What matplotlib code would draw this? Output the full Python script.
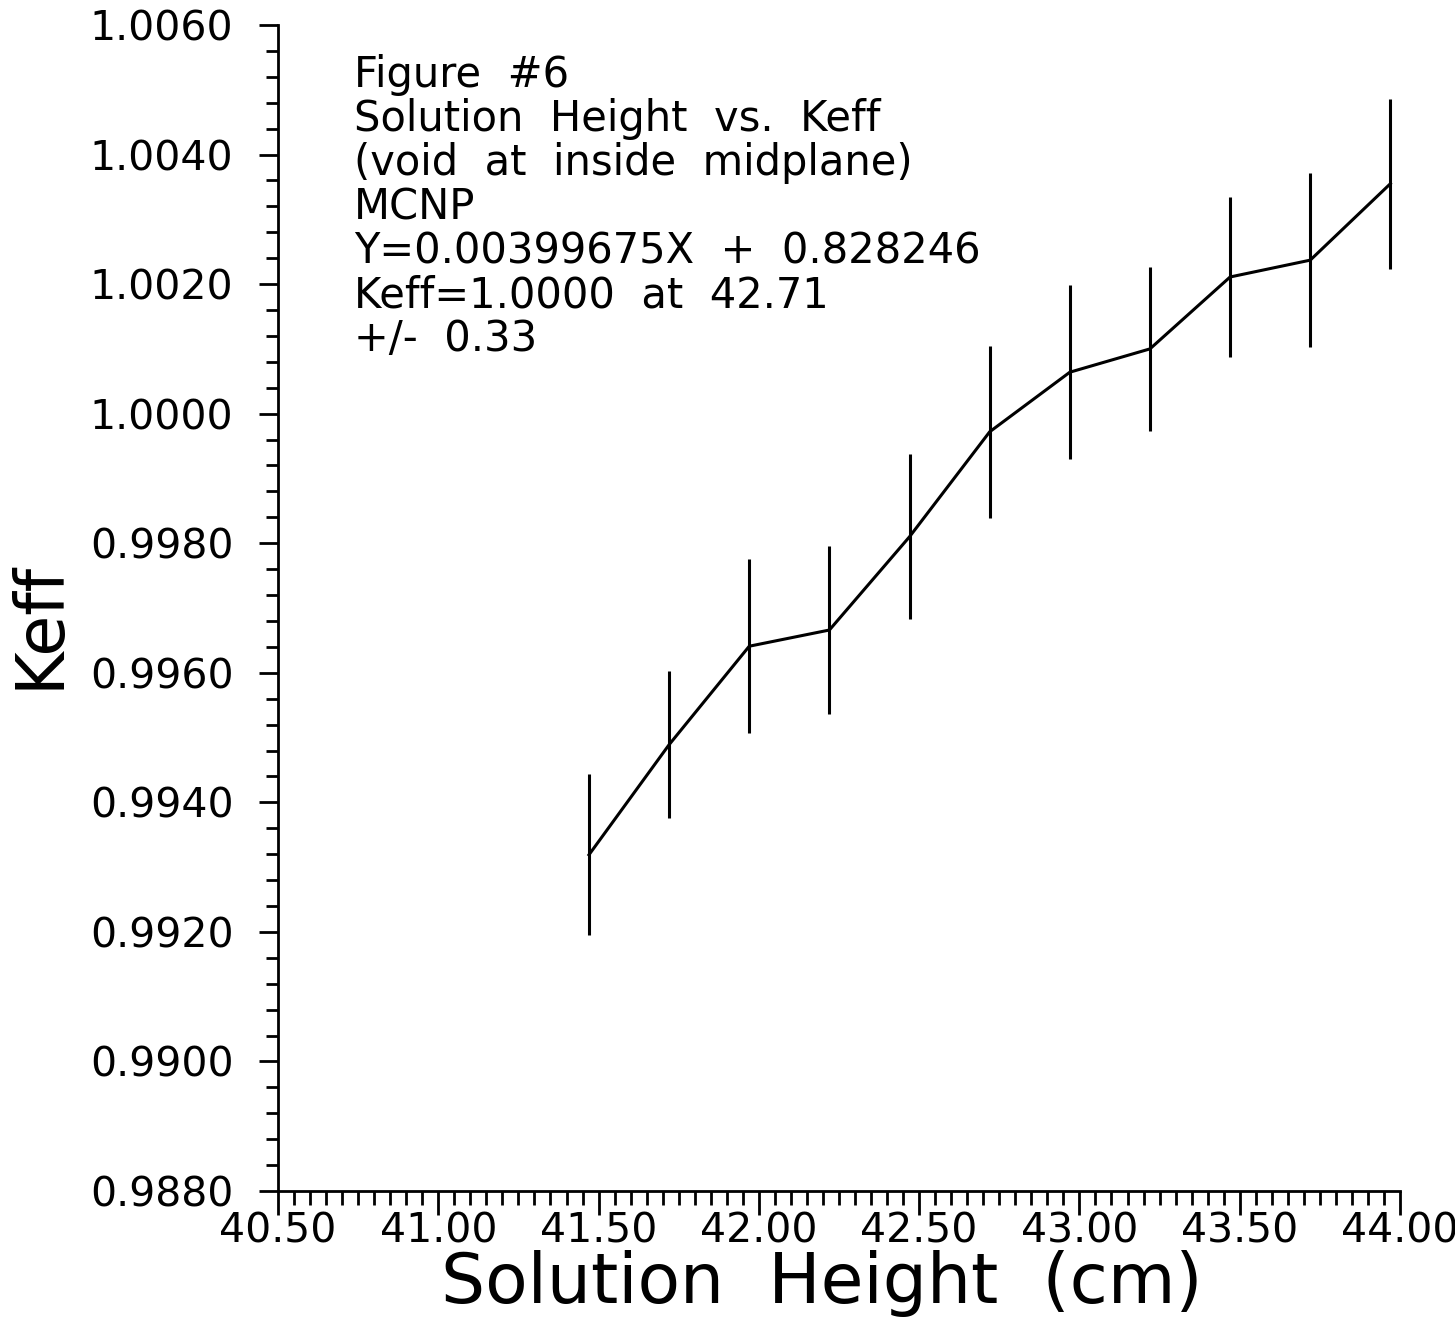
import numpy as np
import matplotlib
matplotlib.use("Agg")
import matplotlib.pyplot as plt
from matplotlib.ticker import MultipleLocator, FormatStrFormatter

#data
height = [41.47, 41.72, 41.97, 42.22, 42.47, 42.72, 42.97, 43.22, 43.47, 43.72, 43.97]
keff = [0.99319, 0.99489, 0.99641, 0.99666, 0.99810, 0.99972,
        1.00064, 1.00100, 1.00211, 1.00237, 1.00355]
sigma = [0.00124, 0.00113, 0.00134, 0.00130, 0.00127, 0.00133,
         0.00134, 0.00126, 0.00124, 0.00134, 0.00131]

note_lines = ["Figure  #6",
              "Solution  Height  vs.  Keff",
              "(void  at  inside  midplane)",
              "MCNP",
              "Y=0.00399675X  +  0.828246",
              "Keff=1.0000  at  42.71",
              "+/-  0.33"]

plt.rcParams['font.family'] = 'DejaVu Sans'

fig = plt.figure(figsize=(14.55, 13.33), dpi=100)
ax = fig.add_axes([278/1455, 1 - 1191/1333, (1400 - 278)/1455, (1191 - 25)/1333])

ax.errorbar(height, keff, yerr=sigma, color='black', lw=2.2, elinewidth=2.2, capsize=0)

ax.set_xlim(40.5, 44.0)
ax.set_ylim(0.9880, 1.0060)

#ticks
ax.xaxis.set_major_locator(MultipleLocator(0.5))
ax.xaxis.set_minor_locator(MultipleLocator(0.05))
ax.yaxis.set_major_locator(MultipleLocator(0.002))
ax.yaxis.set_minor_locator(MultipleLocator(0.0004))
ax.xaxis.set_major_formatter(FormatStrFormatter('%.2f'))
ax.yaxis.set_major_formatter(FormatStrFormatter('%.4f'))
ax.tick_params(axis='x', which='major', length=17, width=2, labelsize=29.5, pad=-2)
ax.tick_params(axis='x', which='minor', length=10, width=2)
ax.tick_params(axis='y', which='major', length=14, width=2, labelsize=29.5, pad=18)
ax.tick_params(axis='y', which='minor', length=9, width=2)

for s in ['top', 'right']:
    ax.spines[s].set_visible(False)
for s in ['left', 'bottom']:
    ax.spines[s].set_linewidth(2)

ax.set_xlabel('Solution  Height  (cm)', fontsize=50)
ax.set_ylabel('Keff', fontsize=48)
ax.xaxis.set_label_coords(0.485, -0.051)
ax.yaxis.set_label_coords(-0.183, 0.485)

ax.text(0.068, 0.975, "\n".join(note_lines), transform=ax.transAxes,
        fontsize=30, va='top', ha='left', linespacing=1.06)

fig.savefig('out.png', dpi=100)
